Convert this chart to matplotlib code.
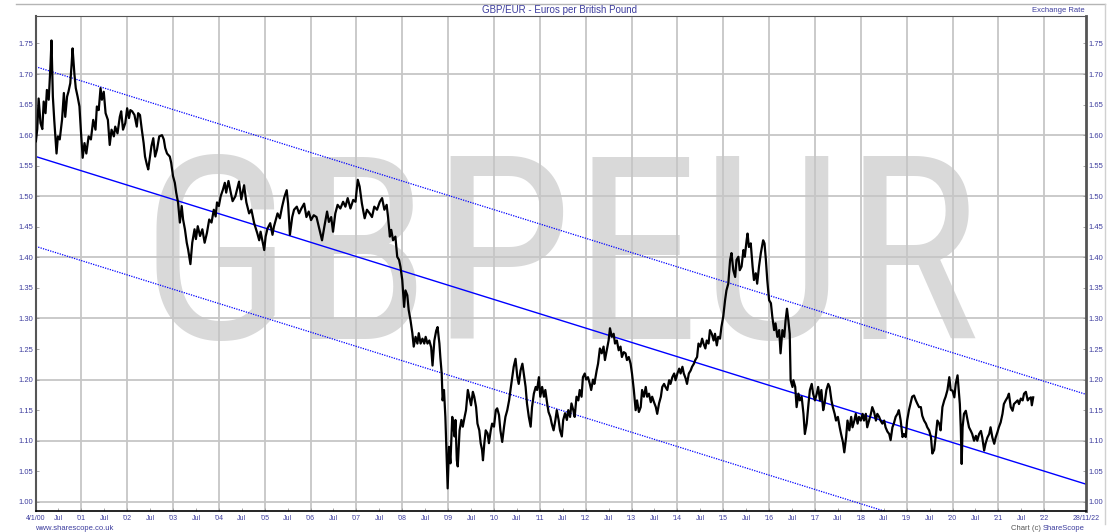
import numpy as np
import matplotlib.pyplot as plt
from matplotlib import font_manager
from matplotlib.lines import Line2D

plt.rcParams['font.family'] = ['Liberation Sans', 'DejaVu Sans']

# GBP/EUR (decimal year, euros per pound)
years = [
    2000.01, 2000.04, 2000.07, 2000.11, 2000.15, 2000.18, 2000.22, 2000.25, 2000.29, 2000.33, 2000.35, 2000.38,
    2000.41, 2000.46, 2000.49, 2000.53, 2000.58, 2000.62, 2000.65, 2000.69, 2000.72, 2000.76, 2000.79, 2000.81,
    2000.85, 2000.88, 2000.92, 2000.96, 2000.99,
    2001.03, 2001.07, 2001.11, 2001.16, 2001.21, 2001.26, 2001.31, 2001.34, 2001.38, 2001.42, 2001.45, 2001.49,
    2001.53, 2001.58, 2001.62, 2001.66, 2001.71, 2001.74, 2001.79, 2001.84, 2001.87, 2001.91, 2001.96,
    2002.00, 2002.04, 2002.07, 2002.11, 2002.16, 2002.21, 2002.24, 2002.28, 2002.32, 2002.36, 2002.39, 2002.43,
    2002.46, 2002.50, 2002.53, 2002.57, 2002.61, 2002.65, 2002.70, 2002.76, 2002.80, 2002.83, 2002.87, 2002.93, 2002.96,
    2003.00, 2003.04, 2003.07, 2003.11, 2003.15, 2003.19, 2003.22, 2003.26, 2003.30, 2003.33, 2003.38, 2003.42,
    2003.47, 2003.50, 2003.54, 2003.59, 2003.64, 2003.69, 2003.74, 2003.79, 2003.84, 2003.89, 2003.93, 2003.96,
    2004.00, 2004.04, 2004.09, 2004.13, 2004.16, 2004.21, 2004.26, 2004.30, 2004.36, 2004.44, 2004.49, 2004.55,
    2004.60, 2004.66, 2004.71, 2004.77, 2004.84, 2004.88, 2004.91, 2004.99,
    2005.02, 2005.06, 2005.12, 2005.17, 2005.20, 2005.28, 2005.33, 2005.38, 2005.43, 2005.48, 2005.51, 2005.55,
    2005.60, 2005.64, 2005.70, 2005.75, 2005.80, 2005.86, 2005.91, 2005.96,
    2006.01, 2006.07, 2006.13, 2006.18, 2006.25, 2006.30, 2006.36, 2006.40, 2006.45, 2006.49, 2006.54, 2006.59,
    2006.65, 2006.71, 2006.76, 2006.81, 2006.87, 2006.93, 2006.98,
    2007.03, 2007.07, 2007.12, 2007.18, 2007.23, 2007.29, 2007.34, 2007.39, 2007.45, 2007.51, 2007.56, 2007.61,
    2007.66, 2007.69, 2007.73, 2007.76, 2007.80, 2007.85, 2007.89, 2007.93, 2007.96,
    2008.00, 2008.04, 2008.07, 2008.11, 2008.14, 2008.18, 2008.22, 2008.25, 2008.29, 2008.33, 2008.36, 2008.40,
    2008.44, 2008.48, 2008.51, 2008.55, 2008.59, 2008.63, 2008.66, 2008.70, 2008.74, 2008.77, 2008.81, 2008.83,
    2008.86, 2008.88, 2008.91, 2008.94, 2008.96, 2008.99,
    2009.02, 2009.05, 2009.09, 2009.11, 2009.14, 2009.16, 2009.19, 2009.21, 2009.25, 2009.29, 2009.32, 2009.36,
    2009.39, 2009.43, 2009.46, 2009.50, 2009.54, 2009.57, 2009.61, 2009.64, 2009.68, 2009.71, 2009.74, 2009.76,
    2009.79, 2009.82, 2009.86, 2009.89, 2009.93, 2009.96,
    2010.00, 2010.04, 2010.07, 2010.11, 2010.14, 2010.18, 2010.22, 2010.25, 2010.29, 2010.33, 2010.36, 2010.40,
    2010.43, 2010.47, 2010.51, 2010.54, 2010.58, 2010.62, 2010.65, 2010.69, 2010.72, 2010.76, 2010.80, 2010.83,
    2010.87, 2010.91, 2010.94, 2010.98,
    2011.01, 2011.05, 2011.09, 2011.12, 2011.16, 2011.19, 2011.23, 2011.26, 2011.30, 2011.34, 2011.37, 2011.41,
    2011.44, 2011.48, 2011.51, 2011.55, 2011.59, 2011.62, 2011.66, 2011.69, 2011.73, 2011.76, 2011.80, 2011.84,
    2011.87, 2011.91, 2011.94, 2011.98,
    2012.01, 2012.05, 2012.09, 2012.12, 2012.16, 2012.19, 2012.24, 2012.27, 2012.31, 2012.35, 2012.39, 2012.42,
    2012.46, 2012.50, 2012.53, 2012.57, 2012.61, 2012.64, 2012.68, 2012.72, 2012.76, 2012.79, 2012.83, 2012.87,
    2012.90, 2012.94, 2012.98,
    2013.01, 2013.05, 2013.09, 2013.12, 2013.16, 2013.20, 2013.23, 2013.27, 2013.31, 2013.34, 2013.38, 2013.42,
    2013.45, 2013.49, 2013.53, 2013.56, 2013.60, 2013.64, 2013.67, 2013.71, 2013.74, 2013.78, 2013.82, 2013.85,
    2013.89, 2013.93, 2013.96,
    2014.00, 2014.04, 2014.07, 2014.11, 2014.14, 2014.18, 2014.21, 2014.25, 2014.29, 2014.32, 2014.36, 2014.39,
    2014.43, 2014.46, 2014.50, 2014.54, 2014.57, 2014.61, 2014.64, 2014.68, 2014.71, 2014.75, 2014.79, 2014.82,
    2014.86, 2014.89, 2014.93, 2014.96,
    2015.00, 2015.04, 2015.07, 2015.11, 2015.15, 2015.18, 2015.22, 2015.26, 2015.29, 2015.33, 2015.36, 2015.40,
    2015.44, 2015.47, 2015.51, 2015.53, 2015.56, 2015.60, 2015.64, 2015.67, 2015.71, 2015.74, 2015.78, 2015.82,
    2015.87, 2015.90, 2015.93, 2015.96,
    2016.00, 2016.04, 2016.07, 2016.11, 2016.14, 2016.18, 2016.22, 2016.25, 2016.29, 2016.33, 2016.36, 2016.39,
    2016.42, 2016.45, 2016.47, 2016.51, 2016.53, 2016.57, 2016.60, 2016.64, 2016.67, 2016.71, 2016.75, 2016.78,
    2016.82, 2016.86, 2016.89, 2016.93, 2016.96,
    2017.00, 2017.04, 2017.07, 2017.11, 2017.14, 2017.18, 2017.21, 2017.25, 2017.29, 2017.32, 2017.36, 2017.39,
    2017.43, 2017.46, 2017.50, 2017.54, 2017.57, 2017.61, 2017.64, 2017.68, 2017.71, 2017.75, 2017.79, 2017.82,
    2017.86, 2017.89, 2017.93, 2017.96,
    2018.00, 2018.04, 2018.07, 2018.11, 2018.14, 2018.18, 2018.22, 2018.25, 2018.29, 2018.33, 2018.36, 2018.40,
    2018.43, 2018.47, 2018.51, 2018.54, 2018.58, 2018.62, 2018.65, 2018.69, 2018.72, 2018.76, 2018.80, 2018.83,
    2018.87, 2018.91, 2018.94, 2018.98,
    2019.01, 2019.05, 2019.09, 2019.12, 2019.16, 2019.20, 2019.23, 2019.27, 2019.31, 2019.34, 2019.38, 2019.42,
    2019.45, 2019.49, 2019.53, 2019.56, 2019.60, 2019.64, 2019.67, 2019.71, 2019.74, 2019.78, 2019.82, 2019.85,
    2019.89, 2019.93, 2019.96,
    2020.00, 2020.04, 2020.07, 2020.11, 2020.13, 2020.16, 2020.18, 2020.20, 2020.22, 2020.25, 2020.29, 2020.33,
    2020.36, 2020.40, 2020.43, 2020.47, 2020.51, 2020.54, 2020.58, 2020.62, 2020.65, 2020.69, 2020.72, 2020.76,
    2020.80, 2020.83, 2020.87, 2020.91, 2020.94, 2020.98,
    2021.01, 2021.05, 2021.09, 2021.12, 2021.16, 2021.20, 2021.23, 2021.27, 2021.31, 2021.34, 2021.38, 2021.42,
    2021.45, 2021.49, 2021.53, 2021.56, 2021.60, 2021.64, 2021.67, 2021.71, 2021.73, 2021.76,
]
rates = [
    1.590, 1.610, 1.660, 1.620, 1.610, 1.655, 1.636, 1.674, 1.658, 1.717, 1.755, 1.663,
    1.625, 1.570, 1.598, 1.593, 1.625, 1.669, 1.630, 1.663, 1.671, 1.685, 1.717, 1.742,
    1.700, 1.677, 1.663, 1.647, 1.609,
    1.563, 1.587, 1.570, 1.598, 1.593, 1.625, 1.609, 1.647, 1.641, 1.677, 1.658, 1.671,
    1.636, 1.625, 1.584, 1.609, 1.598, 1.614, 1.603, 1.630, 1.639, 1.609, 1.620,
    1.644, 1.628, 1.641, 1.639, 1.633, 1.614, 1.636, 1.633, 1.609, 1.587, 1.565, 1.552,
    1.544, 1.565, 1.582, 1.595, 1.565, 1.576, 1.598, 1.600, 1.593, 1.579, 1.570, 1.565, 1.555,
    1.533, 1.522, 1.506, 1.490, 1.457, 1.484, 1.462, 1.446, 1.424, 1.413, 1.389, 1.424,
    1.446, 1.430, 1.451, 1.435, 1.446, 1.424, 1.440, 1.462, 1.457, 1.478, 1.467, 1.490,
    1.484, 1.500, 1.511, 1.522, 1.506, 1.525, 1.506, 1.492, 1.500, 1.524, 1.495, 1.518,
    1.490, 1.472, 1.478, 1.456, 1.439, 1.428, 1.442, 1.412,
    1.434, 1.447, 1.456, 1.437, 1.450, 1.472, 1.464, 1.483, 1.499, 1.510, 1.488, 1.437,
    1.466, 1.478, 1.483, 1.472, 1.480, 1.488, 1.466, 1.475,
    1.461, 1.469, 1.466, 1.450, 1.428, 1.450, 1.475, 1.458, 1.466, 1.442, 1.472, 1.486,
    1.480, 1.491, 1.483, 1.497, 1.480, 1.494, 1.491,
    1.527, 1.516, 1.488, 1.464, 1.478, 1.472, 1.466, 1.483, 1.478, 1.491, 1.497, 1.478,
    1.486, 1.466, 1.434, 1.445, 1.428, 1.434, 1.401, 1.396, 1.385,
    1.363, 1.319, 1.346, 1.338, 1.314, 1.297, 1.276, 1.254, 1.270, 1.259, 1.276, 1.259,
    1.267, 1.259, 1.270, 1.259, 1.264, 1.253, 1.223, 1.264, 1.280, 1.286, 1.259, 1.237,
    1.210, 1.166, 1.183, 1.139, 1.090, 1.022,
    1.090, 1.063, 1.139, 1.128, 1.107, 1.134, 1.068, 1.058, 1.117, 1.134, 1.123, 1.139,
    1.150, 1.183, 1.172, 1.158, 1.180, 1.172, 1.155, 1.128, 1.117, 1.096, 1.085, 1.068,
    1.096, 1.117, 1.112, 1.096, 1.117, 1.128,
    1.123, 1.150, 1.153, 1.142, 1.117, 1.098, 1.123, 1.139, 1.150, 1.166, 1.183, 1.204,
    1.221, 1.234, 1.204, 1.193, 1.215, 1.226, 1.210, 1.188, 1.161, 1.139, 1.123, 1.155,
    1.177, 1.188, 1.183, 1.204,
    1.172, 1.188, 1.172, 1.183, 1.161, 1.147, 1.139, 1.128, 1.117, 1.134, 1.150, 1.134,
    1.117, 1.107, 1.134, 1.145, 1.134, 1.150, 1.139, 1.161, 1.150, 1.139, 1.172, 1.166,
    1.183, 1.172, 1.204, 1.210,
    1.200, 1.204, 1.193, 1.183, 1.200, 1.193, 1.215, 1.226, 1.251, 1.243, 1.254, 1.232,
    1.248, 1.264, 1.284, 1.270, 1.275, 1.259, 1.264, 1.248, 1.254, 1.237, 1.245, 1.243,
    1.232, 1.237, 1.226,
    1.210, 1.183, 1.150, 1.166, 1.147, 1.155, 1.183, 1.172, 1.188, 1.172, 1.177, 1.163,
    1.172, 1.163, 1.155, 1.144, 1.161, 1.172, 1.188, 1.193, 1.188, 1.183, 1.199, 1.193,
    1.204, 1.210, 1.199,
    1.210, 1.218, 1.210, 1.221, 1.210, 1.202, 1.193, 1.210, 1.215, 1.221, 1.226, 1.232,
    1.237, 1.259, 1.254, 1.267, 1.259, 1.251, 1.264, 1.259, 1.281, 1.275, 1.264, 1.275,
    1.256, 1.270, 1.267, 1.286,
    1.303, 1.330, 1.346, 1.357, 1.396, 1.407, 1.379, 1.368, 1.396, 1.401, 1.379, 1.385,
    1.412, 1.401, 1.428, 1.439, 1.417, 1.423, 1.385, 1.363, 1.374, 1.357, 1.385, 1.407,
    1.428, 1.423, 1.396, 1.363,
    1.330, 1.325, 1.303, 1.281, 1.292, 1.270, 1.281, 1.243, 1.281, 1.270, 1.297, 1.316,
    1.297, 1.275, 1.199, 1.188, 1.199, 1.188, 1.155, 1.177, 1.166, 1.172, 1.144, 1.111,
    1.128, 1.161, 1.183, 1.193, 1.177,
    1.166, 1.177, 1.188, 1.166, 1.183, 1.150, 1.161, 1.183, 1.193, 1.188, 1.166, 1.155,
    1.144, 1.133, 1.139, 1.122, 1.111, 1.098, 1.081, 1.106, 1.133, 1.117, 1.139, 1.122,
    1.133, 1.144, 1.128, 1.139,
    1.133, 1.144, 1.133, 1.144, 1.122, 1.133, 1.144, 1.155, 1.147, 1.133, 1.144, 1.139,
    1.133, 1.128, 1.133, 1.122, 1.115, 1.111, 1.101, 1.122, 1.128, 1.139, 1.144, 1.150,
    1.133, 1.106, 1.111, 1.106,
    1.133, 1.150, 1.163, 1.172, 1.174, 1.166, 1.161, 1.155, 1.155, 1.141, 1.133, 1.128,
    1.122, 1.117, 1.106, 1.079, 1.085, 1.111, 1.133, 1.128, 1.117, 1.155, 1.166, 1.172,
    1.183, 1.204, 1.183,
    1.182, 1.171, 1.193, 1.207, 1.188, 1.160, 1.122, 1.062, 1.122, 1.144, 1.149, 1.133,
    1.122, 1.116, 1.111, 1.100, 1.108, 1.100, 1.111, 1.116, 1.105, 1.084, 1.095, 1.105,
    1.111, 1.122, 1.105, 1.095, 1.105, 1.114,
    1.122, 1.130, 1.144, 1.160, 1.166, 1.171, 1.177, 1.155, 1.149, 1.160, 1.163, 1.166,
    1.160, 1.169, 1.166, 1.177, 1.180, 1.166, 1.169, 1.171, 1.158, 1.171,
]

# trend channel drawn on the chart: centre line at both ends, half width
chart_start, chart_end = 2000.008, 2022.907
trend_mid = [1.565, 1.029]
channel_half = 0.147

year_ticks = list(range(2001, 2023))
year_labels = ["'%02d" % (y % 100) for y in year_ticks]
jul_ticks = [y + 0.5 for y in range(2000, 2022)]
rate_ticks = np.round(np.arange(1.00, 1.751, 0.05), 2)
grid_rates = np.round(np.arange(1.00, 1.71, 0.10), 2)

label_blue = '#3d3d9e'
grid_grey = '#c6c6c6'

fig = plt.figure(figsize=(11.19, 5.32), dpi=100)
ax = fig.add_axes([35.8 / 1119, 21 / 532, 1050 / 1119, 495 / 532])
ax.set_xlim(chart_start, chart_end)
ax.set_ylim(0.985, 1.795)

# grid
for y in grid_rates:
    ax.axhline(y, color=grid_grey, lw=1.3, zorder=0.5)
for x in year_ticks:
    ax.axvline(x, color=grid_grey, lw=1.3, zorder=0.5)

# channel
ends = np.array([chart_start, chart_end])
mid = np.array(trend_mid)
ax.plot(ends, mid, color='#0000ff', lw=1.0, zorder=2)
ax.plot(ends, mid + channel_half, color='#0000ff', lw=0.9, ls=(0, (1, 1)), zorder=2)
ax.plot(ends, mid - channel_half, color='#0000ff', lw=0.9, ls=(0, (1, 1)), zorder=2)

ax.plot(years, rates, color='black', lw=1.6, zorder=3)

# ticks
ax.set_xticks([chart_start] + year_ticks + [chart_end],
              labels=['4/1/00'] + year_labels + ['28/11/22'])
ax.set_xticks(jul_ticks, labels=['Jul'] * len(jul_ticks), minor=True)
ax.tick_params(axis='x', which='both', direction='in', length=2, width=0.6, color='#999999',
               labelsize=5, labelcolor=label_blue, pad=3)
ax.set_yticks(rate_ticks, labels=['%.2f' % v for v in rate_ticks])
ax.tick_params(axis='y', direction='in', length=2, width=0.6, color='#999999',
               labelsize=5.5, labelcolor=label_blue, pad=2,
               left=True, right=True, labelleft=True, labelright=True)

for side in ['left', 'right', 'top']:
    ax.spines[side].set_color('#555555')
ax.spines['left'].set_linewidth(1.5)
ax.spines['right'].set_linewidth(2)
ax.spines['top'].set_linewidth(0.8)
ax.spines['bottom'].set_color('black')
ax.spines['bottom'].set_linewidth(1.2)

# header / footer
fig.text(0.5, 522 / 532, 'GBP/EUR - Euros per British Pound', ha='center', va='center',
         fontsize=7, color=label_blue)
fig.text(1085 / 1119, 522 / 532, 'Exchange Rate', ha='right', va='center', fontsize=5.5, color=label_blue)
fig.text(35 / 1119, 3 / 532, 'www.sharescope.co.uk', ha='left', va='center', fontsize=5.5, color=label_blue)
brand = fig.text(1085 / 1119, 3 / 532, 'ShareScope', ha='right', va='center', fontsize=5.5, color=label_blue)
fig.add_artist(Line2D([16 / 1119, 1105 / 1119], [528 / 532, 528 / 532], color='#b5b5b5', lw=1))
fig.add_artist(Line2D([1105 / 1119, 1105 / 1119], [528 / 532, 8 / 532], color='#d0d0d0', lw=1))

# watermark
names = {f.name for f in font_manager.fontManager.ttflist}
wm_family = next((n for n in ['Liberation Sans Narrow', 'Roboto Condensed', 'Liberation Sans']
                  if n in names), 'DejaVu Sans')
wm = ax.text(0.5, 0.35, 'GBPEUR', transform=ax.transAxes, ha='center', va='baseline',
             fontsize=150, family=wm_family, color='#d9d9d9', zorder=0.2)
fig.canvas.draw()
renderer = fig.canvas.get_renderer()
size = 150 * 840 / wm.get_window_extent(renderer).width
wm.set_fontsize(size)
cap_px = size / 72 * 100 * 0.716
wm.set_position((0.5, (511 - (247 + cap_px / 2)) / 495))

bb = brand.get_window_extent(renderer)
fig.text((bb.x0 - 2) / 1119, 3 / 532, 'Chart (c)', ha='right', va='center', fontsize=5.5, color='#555555')

fig.savefig('out.png', dpi=100)
